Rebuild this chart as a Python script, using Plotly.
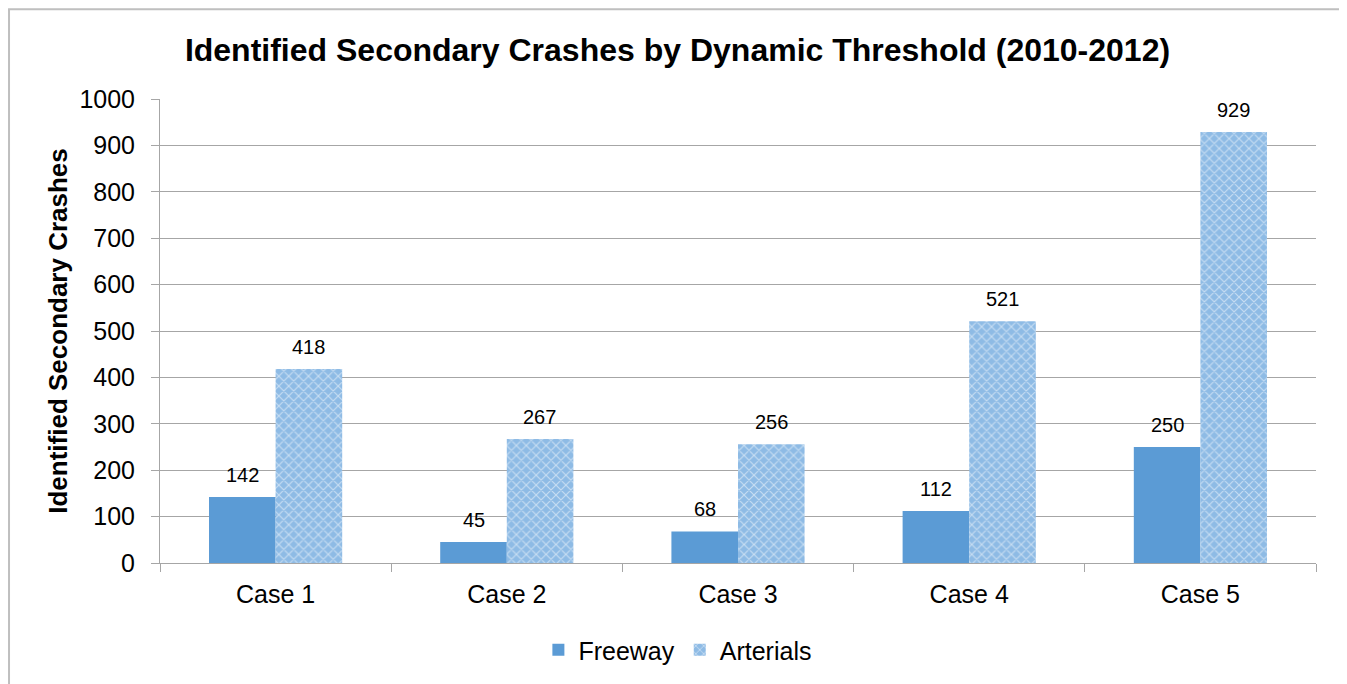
import plotly.graph_objects as go

cases = ["Case 1", "Case 2", "Case 3", "Case 4", "Case 5"]
freeway = [142, 45, 68, 112, 250]
arterials = [418, 267, 256, 521, 929]

BLUE = "#5B9BD5"
GRID = "#A6A6A6"
FONT = "Liberation Sans, Arial, sans-serif"

fig = go.Figure()

fig.add_trace(go.Bar(
    x=cases, y=freeway, name="Freeway",
    marker=dict(color=BLUE, line_width=0),
))
fig.add_trace(go.Bar(
    x=cases, y=arterials, name="Arterials",
    marker=dict(color="#9DC3E6", line_width=0,
                pattern=dict(shape="x", fgcolor="white", bgcolor="#8EBBE5",
                             size=7, solidity=0.3)),
))

# data labels above the bars
for c, v in zip(cases, freeway):
    fig.add_annotation(x=c, y=v, text=str(v), xshift=-33, yshift=9,
                       yanchor="bottom", showarrow=False,
                       font=dict(size=20, color="black", family=FONT))
for c, v in zip(cases, arterials):
    fig.add_annotation(x=c, y=v, text=str(v), xshift=33, yshift=9,
                       yanchor="bottom", showarrow=False,
                       font=dict(size=20, color="black", family=FONT))

# outer chart border
fig.add_shape(type="rect", xref="paper", yref="paper",
              x0=-0.1306, x1=1.027, y0=-0.35, y1=1.1935,
              line=dict(color="#BFBFBF", width=2), layer="below")

fig.update_layout(
    width=1339, height=676,
    margin=dict(l=152, r=31, t=91, b=120),
    paper_bgcolor="white", plot_bgcolor="white",
    font=dict(family=FONT, color="black", size=25),
    title=dict(text="<b>Identified Secondary Crashes by Dynamic Threshold (2010-2012)</b>",
               x=0.5, xanchor="center", y=0.938, yanchor="middle",
               font=dict(size=32, family=FONT)),
    barmode="group", bargap=0.424, bargroupgap=0,
    showlegend=True,
    legend=dict(orientation="h", x=0.448, xanchor="center", y=-0.185, yanchor="middle",
                font=dict(size=25), traceorder="normal"),
)

fig.update_xaxes(
    showline=True, linecolor=GRID, linewidth=1,
    ticks="outside", tickson="boundaries", ticklen=8, tickcolor=GRID,
    tickfont=dict(size=25), showgrid=False, ticklabelstandoff=9,
)
fig.update_yaxes(
    range=[0, 1000], dtick=100,
    showline=True, linecolor=GRID, linewidth=1,
    ticks="outside", ticklen=8, tickcolor=GRID,
    gridcolor=GRID, gridwidth=1, zeroline=False,
    tickfont=dict(size=25), ticklabelstandoff=11,
    title=dict(text="<b>Identified Secondary Crashes</b>", font=dict(size=26), standoff=4),
)

fig.write_html("out.html")
